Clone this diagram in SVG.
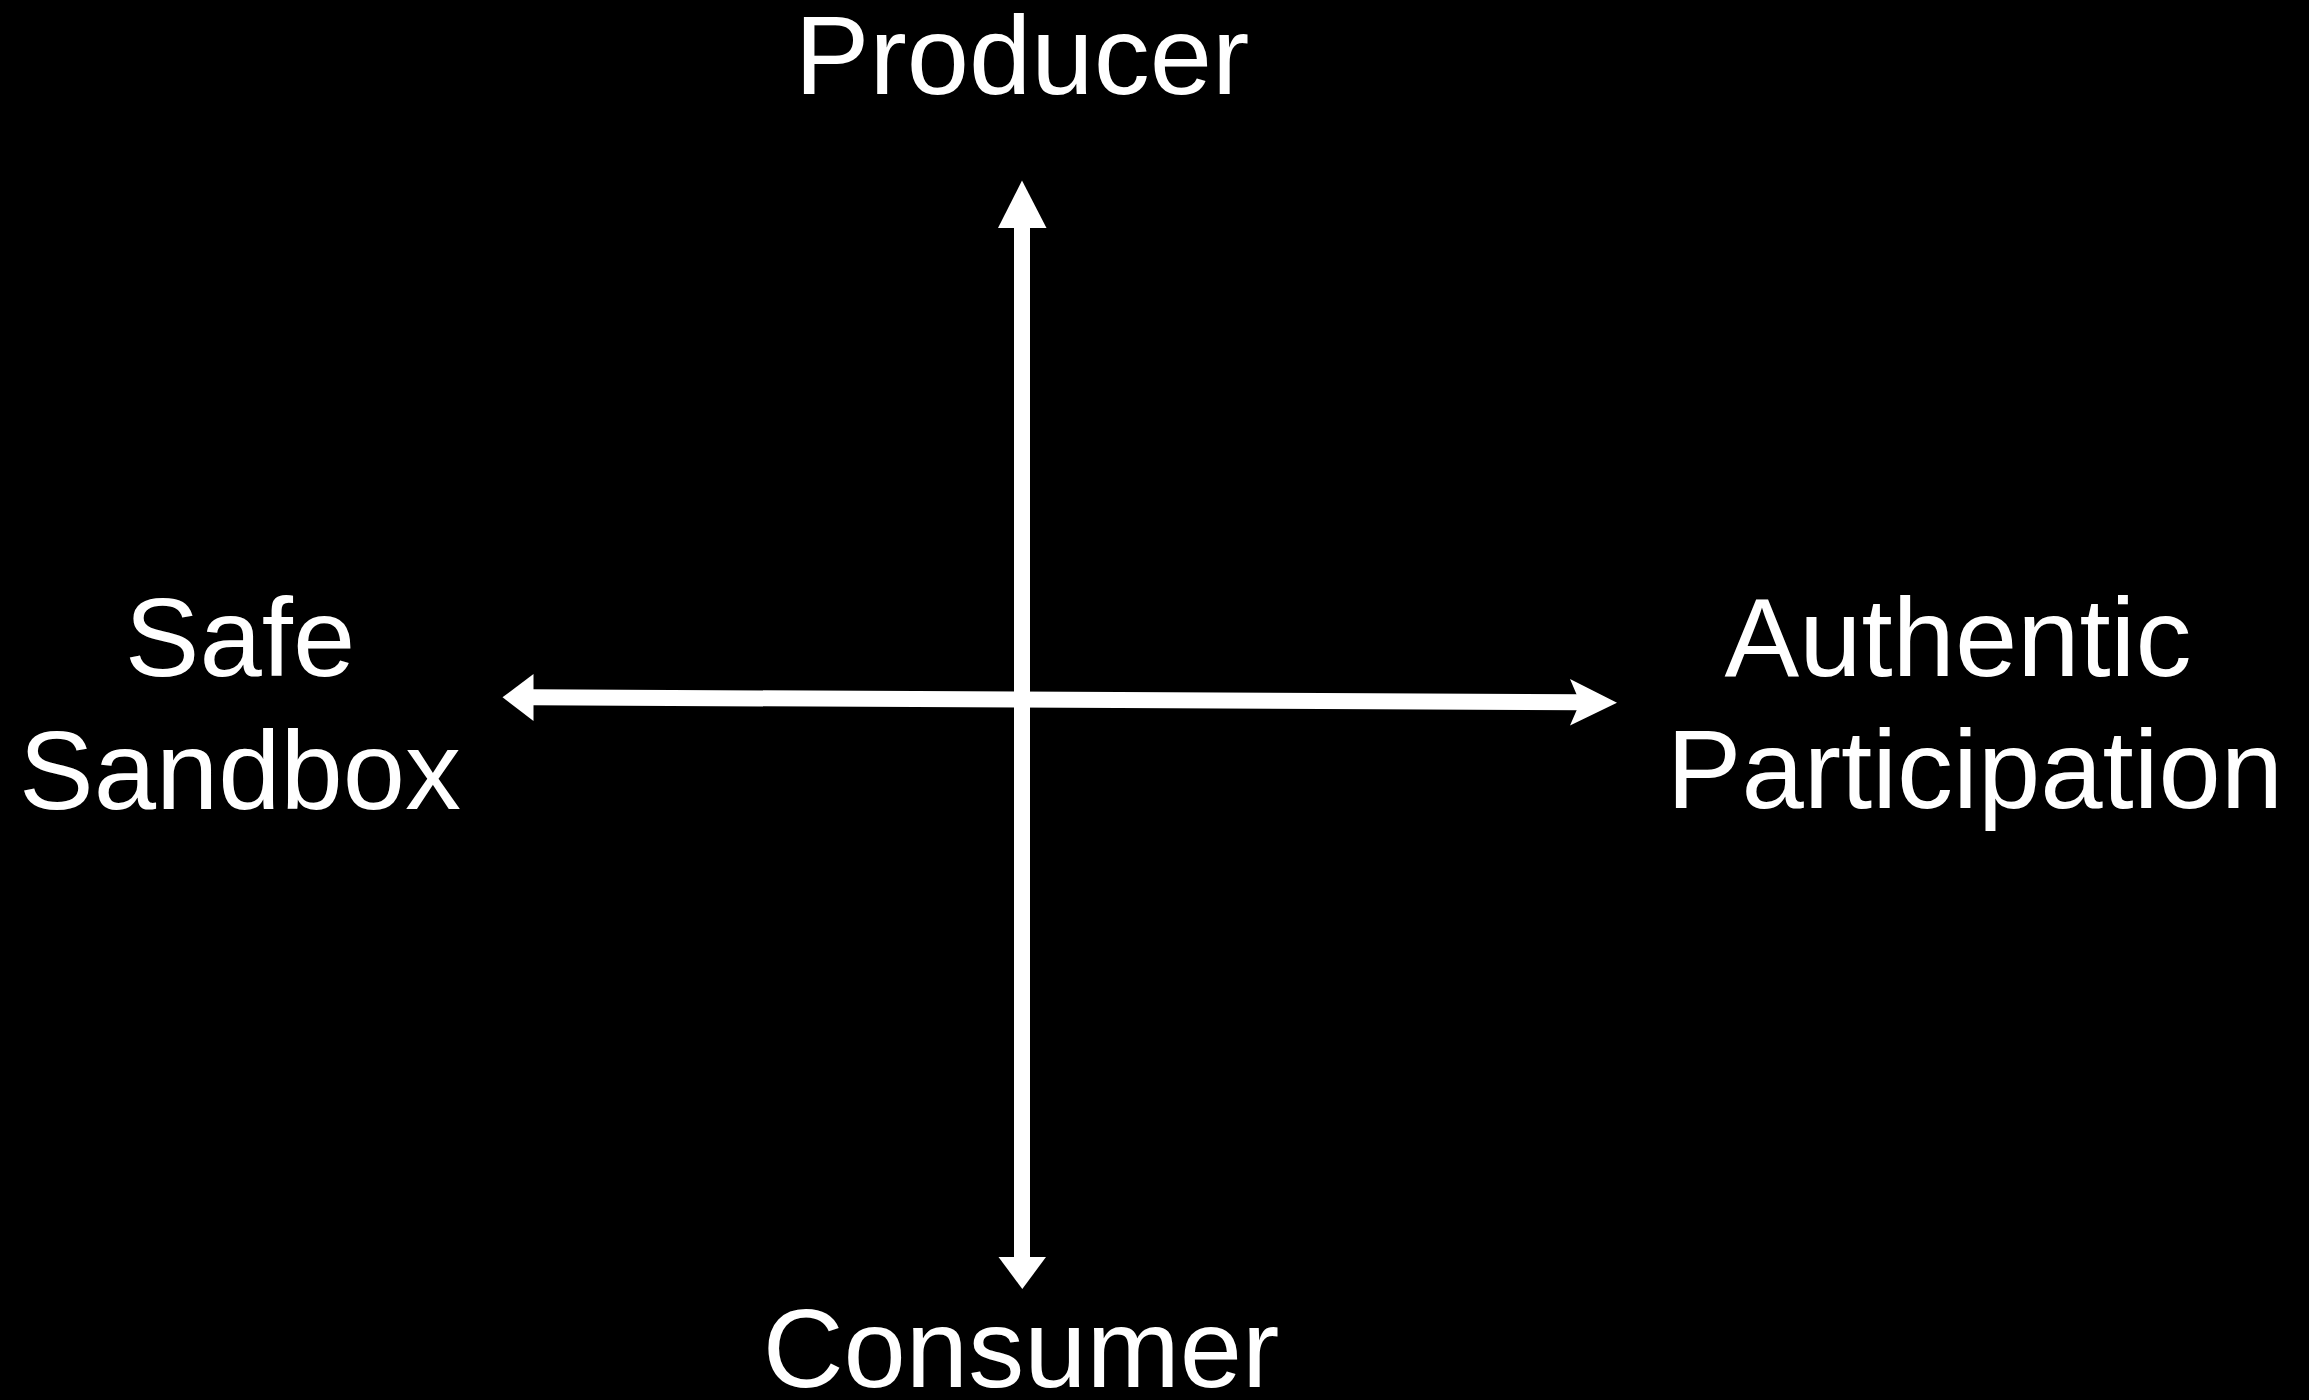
<svg xmlns="http://www.w3.org/2000/svg" width="2309" height="1400" viewBox="0 0 2309 1400">
<style>
.lbl{font-family:"Liberation Sans",Arial,sans-serif;font-size:112px;fill:#fff;text-anchor:middle}
.shaft{stroke:#fff;stroke-width:16;fill:none}
.head{fill:#fff}
</style>
<rect x="0" y="0" width="2309" height="1400" fill="#000"/>
<g id="connectors">
<line class="shaft" x1="1022" y1="226" x2="1022" y2="1259"/>
<polygon class="head" points="1022,180.5 1046.5,228 998,228"/>
<polygon class="head" points="998.5,1257 1046,1257 1022.3,1289"/>
<line class="shaft" x1="532" y1="697.3" x2="1581" y2="702.2"/>
<polygon class="head" points="502.5,697.3 533.5,674 533.5,721"/>
<polygon class="head" points="1617,702.7 1570,679 1580,702.4 1570,725.5"/>
</g>
<g id="producer"><text class="lbl" x="1022" y="94">Producer</text></g>
<g id="consumer"><text class="lbl" x="1021" y="1387">Consumer</text></g>
<g id="safe-sandbox"><text class="lbl" x="240" y="676">Safe</text><text class="lbl" x="240" y="809">Sandbox</text></g>
<g id="authentic-participation"><text class="lbl" x="1958" y="676">Authentic</text><text class="lbl" x="1975" y="808">Participation</text></g>
</svg>
